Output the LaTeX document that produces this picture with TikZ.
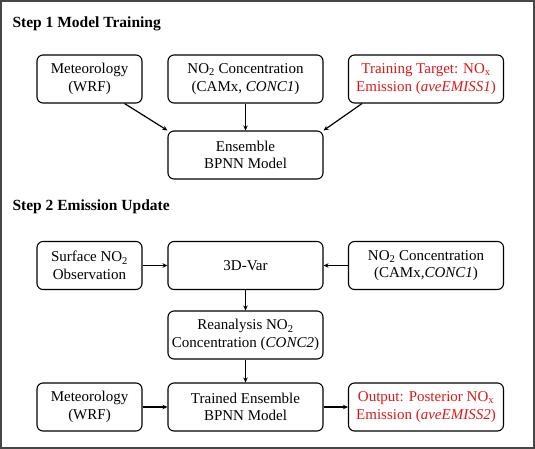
\documentclass[tikz,border=0pt]{standalone}
\usepackage{fontspec}
\setmainfont{Liberation Serif}
\usepackage{xcolor}
\usetikzlibrary{arrows.meta,positioning,calc}
\definecolor{outred}{RGB}{222,24,24}
\definecolor{framegray}{RGB}{70,70,70}

\begin{document}
\begin{tikzpicture}[x=1pt,y=-1pt,
  box/.style={draw,rounded corners=6pt,line width=1.1pt,minimum height=48pt,align=center,font=\fontsize{15}{17.5}\selectfont,inner sep=2pt},
  small/.style={box,minimum width=105pt},
  wide/.style={box,minimum width=155pt},
  steptitle/.style={anchor=west,font=\fontsize{15.5}{18}\selectfont\bfseries},
  flow/.style={-{Stealth[length=5pt,width=4.5pt]},line width=1.2pt}]
\useasboundingbox (0,0) rectangle (535,449);
\draw[framegray,line width=1.4pt] (1,1) rectangle (534,448);
% step 1
\node[steptitle] (t1) at (9,24) {Step 1 Model Training};
\node[small] (met1) at (89.5,79) {Meteorology\\(WRF)};
\node[wide] (conc1) at (245.5,79) {NO\textsubscript{2} Concentration\\(CAMx, \textit{CONC1})};
\node[wide,text=outred] (target) at (426,79) {Training Target: NO\textsubscript{x}\\Emission (\textit{aveEMISS1})};
\node[wide] (ens) at (245.5,155) {Ensemble\\BPNN Model};
\draw[flow] (met1.-35) -- (ens.north west);
\draw[flow] (conc1) -- (ens);
\draw[flow] (target.-159) -- (ens.north east);
% step 2
\node[steptitle] (t2) at (9,207) {Step 2 Emission Update};
\node[small] (surf) at (89.5,265.5) {Surface NO\textsubscript{2}\\Observation};
\node[wide] (var) at (245.5,265.5) {3D-Var};
\node[wide] (conc2) at (426,265.5) {NO\textsubscript{2} Concentration\\(CAMx,\textit{CONC1})};
\node[wide] (rean) at (245.5,335) {Reanalysis NO\textsubscript{2}\\Concentration (\textit{CONC2})};
\node[small] (met2) at (89.5,407) {Meteorology\\(WRF)};
\node[wide] (trained) at (245.5,407) {Trained Ensemble\\BPNN Model};
\node[wide,text=outred] (post) at (426,407) {Output: Posterior NO\textsubscript{x}\\Emission (\textit{aveEMISS2})};
\draw[flow] (surf) -- (var);
\draw[flow] (conc2) -- (var);
\draw[flow] (var) -- (rean);
\draw[flow] (rean) -- (trained);
\draw[flow] (met2) -- (trained);
\draw[flow] (trained) -- (post);
\end{tikzpicture}
\end{document}
